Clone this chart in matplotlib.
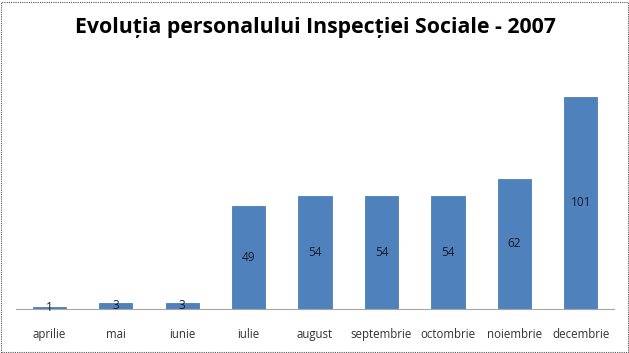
import matplotlib
matplotlib.use("Agg")
import matplotlib.pyplot as plt
from matplotlib.patches import Rectangle

months = ["aprilie", "mai", "iunie", "iulie", "august", "septembrie", "octombrie", "noiembrie", "decembrie"]
values = [1, 3, 3, 49, 54, 54, 54, 62, 101]
title = "Evoluția personalului Inspecției Sociale - 2007"

W, H = 629, 353
fig = plt.figure(figsize=(W / 100, H / 100), dpi=100)
fig.patch.set_facecolor("white")

ax = fig.add_axes([16 / W, 1 - 309 / H, (614 - 16) / W, (309 - 70) / H])
x = list(range(len(months)))
bars = ax.bar(x, values, width=0.5, color="#4F81BD", edgecolor="#4A7EBB", linewidth=0.6)
ax.set_xlim(-0.5, len(months) - 0.5)
ax.set_ylim(0, (309 - 70) / 2.1)

for b, v in zip(bars, values):
    ax.text(b.get_x() + b.get_width() / 2, v / 2, str(v), ha="center", va="center",
            fontsize=8.5, color="#1a1a2a", family="Open Sans")

ax.set_xticks(x)
ax.set_xticklabels(months, fontsize=8.3, color="#333333", family="Open Sans")
ax.tick_params(axis="x", length=0, pad=14)
ax.set_yticks([])
for s in ["top", "right", "left"]:
    ax.spines[s].set_visible(False)
ax.spines["bottom"].set_color("#a6a6a6")
ax.spines["bottom"].set_linewidth(0.8)
ax.spines["bottom"].set_linestyle((0, (1, 1)))

fig.text(315 / W, 1 - 27 / H, title, ha="center", va="center", fontsize=15.3,
         fontweight="bold", family="Open Sans", color="black")

fig.patches.append(Rectangle((1 / W, 1 / H), (W - 2) / W, (H - 2.5) / H, transform=fig.transFigure,
                             fill=False, edgecolor="#555555", linewidth=0.8, linestyle=(0, (1, 1))))

fig.savefig("out.png", dpi=100)
